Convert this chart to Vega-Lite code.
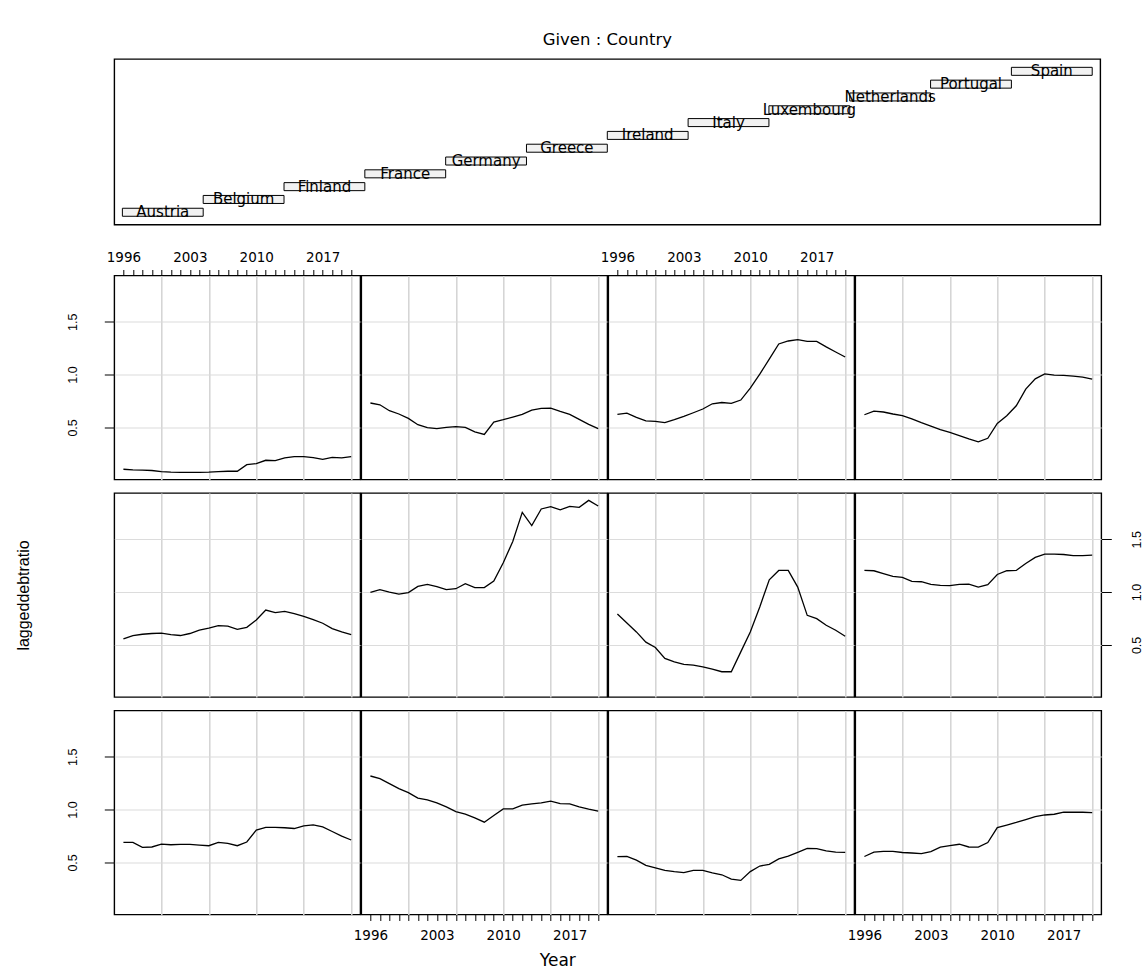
{
"$schema": "https://vega.github.io/schema/vega-lite/v6.json",
"background": "white",
"padding": {"left": 13.3, "top": 30, "right": 2, "bottom": 2},
"datasets": {
"countries": [{"Country":"Austria"},{"Country":"Belgium"},{"Country":"Finland"},{"Country":"France"},{"Country":"Germany"},{"Country":"Greece"},{"Country":"Ireland"},{"Country":"Italy"},{"Country":"Luxembourg"},{"Country":"Netherlands"},{"Country":"Portugal"},{"Country":"Spain"}],
"debt": [
{"Country":"Luxembourg","Year":1996,"laggeddebtratio":0.104},{"Country":"Luxembourg","Year":1997,"laggeddebtratio":0.098},{"Country":"Luxembourg","Year":1998,"laggeddebtratio":0.095},{"Country":"Luxembourg","Year":1999,"laggeddebtratio":0.092},{"Country":"Luxembourg","Year":2000,"laggeddebtratio":0.082},{"Country":"Luxembourg","Year":2001,"laggeddebtratio":0.076},{"Country":"Luxembourg","Year":2002,"laggeddebtratio":0.075},{"Country":"Luxembourg","Year":2003,"laggeddebtratio":0.075},{"Country":"Luxembourg","Year":2004,"laggeddebtratio":0.075},{"Country":"Luxembourg","Year":2005,"laggeddebtratio":0.077},{"Country":"Luxembourg","Year":2006,"laggeddebtratio":0.082},{"Country":"Luxembourg","Year":2007,"laggeddebtratio":0.085},{"Country":"Luxembourg","Year":2008,"laggeddebtratio":0.085},{"Country":"Luxembourg","Year":2009,"laggeddebtratio":0.148},{"Country":"Luxembourg","Year":2010,"laggeddebtratio":0.158},{"Country":"Luxembourg","Year":2011,"laggeddebtratio":0.189},{"Country":"Luxembourg","Year":2012,"laggeddebtratio":0.186},{"Country":"Luxembourg","Year":2013,"laggeddebtratio":0.211},{"Country":"Luxembourg","Year":2014,"laggeddebtratio":0.224},{"Country":"Luxembourg","Year":2015,"laggeddebtratio":0.224},{"Country":"Luxembourg","Year":2016,"laggeddebtratio":0.214},{"Country":"Luxembourg","Year":2017,"laggeddebtratio":0.198},{"Country":"Luxembourg","Year":2018,"laggeddebtratio":0.217},{"Country":"Luxembourg","Year":2019,"laggeddebtratio":0.211},{"Country":"Luxembourg","Year":2020,"laggeddebtratio":0.224},
{"Country":"Netherlands","Year":1996,"laggeddebtratio":0.731},{"Country":"Netherlands","Year":1997,"laggeddebtratio":0.714},{"Country":"Netherlands","Year":1998,"laggeddebtratio":0.658},{"Country":"Netherlands","Year":1999,"laggeddebtratio":0.627},{"Country":"Netherlands","Year":2000,"laggeddebtratio":0.585},{"Country":"Netherlands","Year":2001,"laggeddebtratio":0.526},{"Country":"Netherlands","Year":2002,"laggeddebtratio":0.497},{"Country":"Netherlands","Year":2003,"laggeddebtratio":0.488},{"Country":"Netherlands","Year":2004,"laggeddebtratio":0.5},{"Country":"Netherlands","Year":2005,"laggeddebtratio":0.507},{"Country":"Netherlands","Year":2006,"laggeddebtratio":0.5},{"Country":"Netherlands","Year":2007,"laggeddebtratio":0.457},{"Country":"Netherlands","Year":2008,"laggeddebtratio":0.434},{"Country":"Netherlands","Year":2009,"laggeddebtratio":0.551},{"Country":"Netherlands","Year":2010,"laggeddebtratio":0.573},{"Country":"Netherlands","Year":2011,"laggeddebtratio":0.598},{"Country":"Netherlands","Year":2012,"laggeddebtratio":0.623},{"Country":"Netherlands","Year":2013,"laggeddebtratio":0.664},{"Country":"Netherlands","Year":2014,"laggeddebtratio":0.68},{"Country":"Netherlands","Year":2015,"laggeddebtratio":0.683},{"Country":"Netherlands","Year":2016,"laggeddebtratio":0.651},{"Country":"Netherlands","Year":2017,"laggeddebtratio":0.623},{"Country":"Netherlands","Year":2018,"laggeddebtratio":0.576},{"Country":"Netherlands","Year":2019,"laggeddebtratio":0.529},{"Country":"Netherlands","Year":2020,"laggeddebtratio":0.488},
{"Country":"Portugal","Year":1996,"laggeddebtratio":0.623},{"Country":"Portugal","Year":1997,"laggeddebtratio":0.636},{"Country":"Portugal","Year":1998,"laggeddebtratio":0.595},{"Country":"Portugal","Year":1999,"laggeddebtratio":0.561},{"Country":"Portugal","Year":2000,"laggeddebtratio":0.557},{"Country":"Portugal","Year":2001,"laggeddebtratio":0.545},{"Country":"Portugal","Year":2002,"laggeddebtratio":0.573},{"Country":"Portugal","Year":2003,"laggeddebtratio":0.604},{"Country":"Portugal","Year":2004,"laggeddebtratio":0.639},{"Country":"Portugal","Year":2005,"laggeddebtratio":0.674},{"Country":"Portugal","Year":2006,"laggeddebtratio":0.724},{"Country":"Portugal","Year":2007,"laggeddebtratio":0.736},{"Country":"Portugal","Year":2008,"laggeddebtratio":0.727},{"Country":"Portugal","Year":2009,"laggeddebtratio":0.759},{"Country":"Portugal","Year":2010,"laggeddebtratio":0.872},{"Country":"Portugal","Year":2011,"laggeddebtratio":1.004},{"Country":"Portugal","Year":2012,"laggeddebtratio":1.146},{"Country":"Portugal","Year":2013,"laggeddebtratio":1.29},{"Country":"Portugal","Year":2014,"laggeddebtratio":1.318},{"Country":"Portugal","Year":2015,"laggeddebtratio":1.331},{"Country":"Portugal","Year":2016,"laggeddebtratio":1.315},{"Country":"Portugal","Year":2017,"laggeddebtratio":1.315},{"Country":"Portugal","Year":2018,"laggeddebtratio":1.262},{"Country":"Portugal","Year":2019,"laggeddebtratio":1.214},{"Country":"Portugal","Year":2020,"laggeddebtratio":1.167},
{"Country":"Spain","Year":1996,"laggeddebtratio":0.62},{"Country":"Spain","Year":1997,"laggeddebtratio":0.655},{"Country":"Spain","Year":1998,"laggeddebtratio":0.646},{"Country":"Spain","Year":1999,"laggeddebtratio":0.627},{"Country":"Spain","Year":2000,"laggeddebtratio":0.611},{"Country":"Spain","Year":2001,"laggeddebtratio":0.58},{"Country":"Spain","Year":2002,"laggeddebtratio":0.545},{"Country":"Spain","Year":2003,"laggeddebtratio":0.513},{"Country":"Spain","Year":2004,"laggeddebtratio":0.479},{"Country":"Spain","Year":2005,"laggeddebtratio":0.453},{"Country":"Spain","Year":2006,"laggeddebtratio":0.422},{"Country":"Spain","Year":2007,"laggeddebtratio":0.391},{"Country":"Spain","Year":2008,"laggeddebtratio":0.363},{"Country":"Spain","Year":2009,"laggeddebtratio":0.397},{"Country":"Spain","Year":2010,"laggeddebtratio":0.538},{"Country":"Spain","Year":2011,"laggeddebtratio":0.611},{"Country":"Spain","Year":2012,"laggeddebtratio":0.705},{"Country":"Spain","Year":2013,"laggeddebtratio":0.863},{"Country":"Spain","Year":2014,"laggeddebtratio":0.96},{"Country":"Spain","Year":2015,"laggeddebtratio":1.007},{"Country":"Spain","Year":2016,"laggeddebtratio":0.995},{"Country":"Spain","Year":2017,"laggeddebtratio":0.992},{"Country":"Spain","Year":2018,"laggeddebtratio":0.985},{"Country":"Spain","Year":2019,"laggeddebtratio":0.976},{"Country":"Spain","Year":2020,"laggeddebtratio":0.957},
{"Country":"Germany","Year":1996,"laggeddebtratio":0.557},{"Country":"Germany","Year":1997,"laggeddebtratio":0.589},{"Country":"Germany","Year":1998,"laggeddebtratio":0.601},{"Country":"Germany","Year":1999,"laggeddebtratio":0.608},{"Country":"Germany","Year":2000,"laggeddebtratio":0.611},{"Country":"Germany","Year":2001,"laggeddebtratio":0.598},{"Country":"Germany","Year":2002,"laggeddebtratio":0.589},{"Country":"Germany","Year":2003,"laggeddebtratio":0.608},{"Country":"Germany","Year":2004,"laggeddebtratio":0.639},{"Country":"Germany","Year":2005,"laggeddebtratio":0.658},{"Country":"Germany","Year":2006,"laggeddebtratio":0.683},{"Country":"Germany","Year":2007,"laggeddebtratio":0.677},{"Country":"Germany","Year":2008,"laggeddebtratio":0.648},{"Country":"Germany","Year":2009,"laggeddebtratio":0.667},{"Country":"Germany","Year":2010,"laggeddebtratio":0.736},{"Country":"Germany","Year":2011,"laggeddebtratio":0.83},{"Country":"Germany","Year":2012,"laggeddebtratio":0.806},{"Country":"Germany","Year":2013,"laggeddebtratio":0.818},{"Country":"Germany","Year":2014,"laggeddebtratio":0.796},{"Country":"Germany","Year":2015,"laggeddebtratio":0.771},{"Country":"Germany","Year":2016,"laggeddebtratio":0.74},{"Country":"Germany","Year":2017,"laggeddebtratio":0.705},{"Country":"Germany","Year":2018,"laggeddebtratio":0.655},{"Country":"Germany","Year":2019,"laggeddebtratio":0.623},{"Country":"Germany","Year":2020,"laggeddebtratio":0.598},
{"Country":"Greece","Year":1996,"laggeddebtratio":0.997},{"Country":"Greece","Year":1997,"laggeddebtratio":1.023},{"Country":"Greece","Year":1998,"laggeddebtratio":1.0},{"Country":"Greece","Year":1999,"laggeddebtratio":0.981},{"Country":"Greece","Year":2000,"laggeddebtratio":0.995},{"Country":"Greece","Year":2001,"laggeddebtratio":1.054},{"Country":"Greece","Year":2002,"laggeddebtratio":1.073},{"Country":"Greece","Year":2003,"laggeddebtratio":1.051},{"Country":"Greece","Year":2004,"laggeddebtratio":1.023},{"Country":"Greece","Year":2005,"laggeddebtratio":1.032},{"Country":"Greece","Year":2006,"laggeddebtratio":1.08},{"Country":"Greece","Year":2007,"laggeddebtratio":1.042},{"Country":"Greece","Year":2008,"laggeddebtratio":1.042},{"Country":"Greece","Year":2009,"laggeddebtratio":1.104},{"Country":"Greece","Year":2010,"laggeddebtratio":1.278},{"Country":"Greece","Year":2011,"laggeddebtratio":1.479},{"Country":"Greece","Year":2012,"laggeddebtratio":1.755},{"Country":"Greece","Year":2013,"laggeddebtratio":1.63},{"Country":"Greece","Year":2014,"laggeddebtratio":1.787},{"Country":"Greece","Year":2015,"laggeddebtratio":1.809},{"Country":"Greece","Year":2016,"laggeddebtratio":1.778},{"Country":"Greece","Year":2017,"laggeddebtratio":1.812},{"Country":"Greece","Year":2018,"laggeddebtratio":1.802},{"Country":"Greece","Year":2019,"laggeddebtratio":1.868},{"Country":"Greece","Year":2020,"laggeddebtratio":1.815},
{"Country":"Ireland","Year":1996,"laggeddebtratio":0.793},{"Country":"Ireland","Year":1997,"laggeddebtratio":0.708},{"Country":"Ireland","Year":1998,"laggeddebtratio":0.623},{"Country":"Ireland","Year":1999,"laggeddebtratio":0.526},{"Country":"Ireland","Year":2000,"laggeddebtratio":0.476},{"Country":"Ireland","Year":2001,"laggeddebtratio":0.372},{"Country":"Ireland","Year":2002,"laggeddebtratio":0.34},{"Country":"Ireland","Year":2003,"laggeddebtratio":0.315},{"Country":"Ireland","Year":2004,"laggeddebtratio":0.309},{"Country":"Ireland","Year":2005,"laggeddebtratio":0.293},{"Country":"Ireland","Year":2006,"laggeddebtratio":0.271},{"Country":"Ireland","Year":2007,"laggeddebtratio":0.246},{"Country":"Ireland","Year":2008,"laggeddebtratio":0.246},{"Country":"Ireland","Year":2009,"laggeddebtratio":0.434},{"Country":"Ireland","Year":2010,"laggeddebtratio":0.623},{"Country":"Ireland","Year":2011,"laggeddebtratio":0.859},{"Country":"Ireland","Year":2012,"laggeddebtratio":1.117},{"Country":"Ireland","Year":2013,"laggeddebtratio":1.205},{"Country":"Ireland","Year":2014,"laggeddebtratio":1.205},{"Country":"Ireland","Year":2015,"laggeddebtratio":1.047},{"Country":"Ireland","Year":2016,"laggeddebtratio":0.78},{"Country":"Ireland","Year":2017,"laggeddebtratio":0.749},{"Country":"Ireland","Year":2018,"laggeddebtratio":0.686},{"Country":"Ireland","Year":2019,"laggeddebtratio":0.639},{"Country":"Ireland","Year":2020,"laggeddebtratio":0.582},
{"Country":"Italy","Year":1996,"laggeddebtratio":1.205},{"Country":"Italy","Year":1997,"laggeddebtratio":1.202},{"Country":"Italy","Year":1998,"laggeddebtratio":1.174},{"Country":"Italy","Year":1999,"laggeddebtratio":1.148},{"Country":"Italy","Year":2000,"laggeddebtratio":1.139},{"Country":"Italy","Year":2001,"laggeddebtratio":1.101},{"Country":"Italy","Year":2002,"laggeddebtratio":1.098},{"Country":"Italy","Year":2003,"laggeddebtratio":1.073},{"Country":"Italy","Year":2004,"laggeddebtratio":1.063},{"Country":"Italy","Year":2005,"laggeddebtratio":1.061},{"Country":"Italy","Year":2006,"laggeddebtratio":1.073},{"Country":"Italy","Year":2007,"laggeddebtratio":1.076},{"Country":"Italy","Year":2008,"laggeddebtratio":1.047},{"Country":"Italy","Year":2009,"laggeddebtratio":1.07},{"Country":"Italy","Year":2010,"laggeddebtratio":1.167},{"Country":"Italy","Year":2011,"laggeddebtratio":1.202},{"Country":"Italy","Year":2012,"laggeddebtratio":1.205},{"Country":"Italy","Year":2013,"laggeddebtratio":1.271},{"Country":"Italy","Year":2014,"laggeddebtratio":1.328},{"Country":"Italy","Year":2015,"laggeddebtratio":1.359},{"Country":"Italy","Year":2016,"laggeddebtratio":1.359},{"Country":"Italy","Year":2017,"laggeddebtratio":1.356},{"Country":"Italy","Year":2018,"laggeddebtratio":1.346},{"Country":"Italy","Year":2019,"laggeddebtratio":1.346},{"Country":"Italy","Year":2020,"laggeddebtratio":1.349},
{"Country":"Austria","Year":1996,"laggeddebtratio":0.689},{"Country":"Austria","Year":1997,"laggeddebtratio":0.689},{"Country":"Austria","Year":1998,"laggeddebtratio":0.642},{"Country":"Austria","Year":1999,"laggeddebtratio":0.646},{"Country":"Austria","Year":2000,"laggeddebtratio":0.674},{"Country":"Austria","Year":2001,"laggeddebtratio":0.667},{"Country":"Austria","Year":2002,"laggeddebtratio":0.67},{"Country":"Austria","Year":2003,"laggeddebtratio":0.67},{"Country":"Austria","Year":2004,"laggeddebtratio":0.664},{"Country":"Austria","Year":2005,"laggeddebtratio":0.658},{"Country":"Austria","Year":2006,"laggeddebtratio":0.689},{"Country":"Austria","Year":2007,"laggeddebtratio":0.68},{"Country":"Austria","Year":2008,"laggeddebtratio":0.658},{"Country":"Austria","Year":2009,"laggeddebtratio":0.693},{"Country":"Austria","Year":2010,"laggeddebtratio":0.806},{"Country":"Austria","Year":2011,"laggeddebtratio":0.831},{"Country":"Austria","Year":2012,"laggeddebtratio":0.831},{"Country":"Austria","Year":2013,"laggeddebtratio":0.828},{"Country":"Austria","Year":2014,"laggeddebtratio":0.821},{"Country":"Austria","Year":2015,"laggeddebtratio":0.846},{"Country":"Austria","Year":2016,"laggeddebtratio":0.856},{"Country":"Austria","Year":2017,"laggeddebtratio":0.837},{"Country":"Austria","Year":2018,"laggeddebtratio":0.793},{"Country":"Austria","Year":2019,"laggeddebtratio":0.749},{"Country":"Austria","Year":2020,"laggeddebtratio":0.712},
{"Country":"Belgium","Year":1996,"laggeddebtratio":1.318},{"Country":"Belgium","Year":1997,"laggeddebtratio":1.293},{"Country":"Belgium","Year":1998,"laggeddebtratio":1.246},{"Country":"Belgium","Year":1999,"laggeddebtratio":1.198},{"Country":"Belgium","Year":2000,"laggeddebtratio":1.161},{"Country":"Belgium","Year":2001,"laggeddebtratio":1.108},{"Country":"Belgium","Year":2002,"laggeddebtratio":1.092},{"Country":"Belgium","Year":2003,"laggeddebtratio":1.063},{"Country":"Belgium","Year":2004,"laggeddebtratio":1.026},{"Country":"Belgium","Year":2005,"laggeddebtratio":0.981},{"Country":"Belgium","Year":2006,"laggeddebtratio":0.957},{"Country":"Belgium","Year":2007,"laggeddebtratio":0.922},{"Country":"Belgium","Year":2008,"laggeddebtratio":0.881},{"Country":"Belgium","Year":2009,"laggeddebtratio":0.944},{"Country":"Belgium","Year":2010,"laggeddebtratio":1.007},{"Country":"Belgium","Year":2011,"laggeddebtratio":1.007},{"Country":"Belgium","Year":2012,"laggeddebtratio":1.042},{"Country":"Belgium","Year":2013,"laggeddebtratio":1.054},{"Country":"Belgium","Year":2014,"laggeddebtratio":1.063},{"Country":"Belgium","Year":2015,"laggeddebtratio":1.08},{"Country":"Belgium","Year":2016,"laggeddebtratio":1.057},{"Country":"Belgium","Year":2017,"laggeddebtratio":1.054},{"Country":"Belgium","Year":2018,"laggeddebtratio":1.026},{"Country":"Belgium","Year":2019,"laggeddebtratio":1.004},{"Country":"Belgium","Year":2020,"laggeddebtratio":0.985},
{"Country":"Finland","Year":1996,"laggeddebtratio":0.555},{"Country":"Finland","Year":1997,"laggeddebtratio":0.557},{"Country":"Finland","Year":1998,"laggeddebtratio":0.522},{"Country":"Finland","Year":1999,"laggeddebtratio":0.472},{"Country":"Finland","Year":2000,"laggeddebtratio":0.448},{"Country":"Finland","Year":2001,"laggeddebtratio":0.425},{"Country":"Finland","Year":2002,"laggeddebtratio":0.412},{"Country":"Finland","Year":2003,"laggeddebtratio":0.403},{"Country":"Finland","Year":2004,"laggeddebtratio":0.425},{"Country":"Finland","Year":2005,"laggeddebtratio":0.425},{"Country":"Finland","Year":2006,"laggeddebtratio":0.4},{"Country":"Finland","Year":2007,"laggeddebtratio":0.383},{"Country":"Finland","Year":2008,"laggeddebtratio":0.342},{"Country":"Finland","Year":2009,"laggeddebtratio":0.33},{"Country":"Finland","Year":2010,"laggeddebtratio":0.413},{"Country":"Finland","Year":2011,"laggeddebtratio":0.466},{"Country":"Finland","Year":2012,"laggeddebtratio":0.482},{"Country":"Finland","Year":2013,"laggeddebtratio":0.533},{"Country":"Finland","Year":2014,"laggeddebtratio":0.56},{"Country":"Finland","Year":2015,"laggeddebtratio":0.595},{"Country":"Finland","Year":2016,"laggeddebtratio":0.632},{"Country":"Finland","Year":2017,"laggeddebtratio":0.63},{"Country":"Finland","Year":2018,"laggeddebtratio":0.61},{"Country":"Finland","Year":2019,"laggeddebtratio":0.597},{"Country":"Finland","Year":2020,"laggeddebtratio":0.595},
{"Country":"France","Year":1996,"laggeddebtratio":0.556},{"Country":"France","Year":1997,"laggeddebtratio":0.597},{"Country":"France","Year":1998,"laggeddebtratio":0.604},{"Country":"France","Year":1999,"laggeddebtratio":0.604},{"Country":"France","Year":2000,"laggeddebtratio":0.594},{"Country":"France","Year":2001,"laggeddebtratio":0.589},{"Country":"France","Year":2002,"laggeddebtratio":0.583},{"Country":"France","Year":2003,"laggeddebtratio":0.603},{"Country":"France","Year":2004,"laggeddebtratio":0.644},{"Country":"France","Year":2005,"laggeddebtratio":0.659},{"Country":"France","Year":2006,"laggeddebtratio":0.672},{"Country":"France","Year":2007,"laggeddebtratio":0.646},{"Country":"France","Year":2008,"laggeddebtratio":0.645},{"Country":"France","Year":2009,"laggeddebtratio":0.688},{"Country":"France","Year":2010,"laggeddebtratio":0.83},{"Country":"France","Year":2011,"laggeddebtratio":0.853},{"Country":"France","Year":2012,"laggeddebtratio":0.878},{"Country":"France","Year":2013,"laggeddebtratio":0.906},{"Country":"France","Year":2014,"laggeddebtratio":0.934},{"Country":"France","Year":2015,"laggeddebtratio":0.949},{"Country":"France","Year":2016,"laggeddebtratio":0.956},{"Country":"France","Year":2017,"laggeddebtratio":0.975},{"Country":"France","Year":2018,"laggeddebtratio":0.976},{"Country":"France","Year":2019,"laggeddebtratio":0.975},{"Country":"France","Year":2020,"laggeddebtratio":0.972}
]
},
"config": {
"view": {"stroke": "black", "strokeWidth": 1.4},
"axis": {"domain": false, "grid": true, "tickColor": "black", "tickWidth": 1, "labelColor": "black", "labelFlush": false, "labelOverlap": false, "labelBound": false, "minExtent": 0, "maxExtent": 200},
"axisX": {"labelFont": "DejaVu Sans", "labelFontSize": 13.5, "gridColor": "#d3d3d3", "gridWidth": 1.5},
"axisY": {"labelFont": "Liberation Sans", "labelFontSize": 12.5, "gridColor": "#dcdcdc", "gridWidth": 1.2}
},
"spacing": 11.5,
"vconcat": [
{
"data": {"name": "countries"},
"width": 986, "height": 165.6,
"title": {"text": "Given : Country", "font": "DejaVu Sans", "fontSize": 16.5, "fontWeight": "normal", "color": "black", "anchor": "middle", "offset": -5, "baseline": "bottom"},
"encoding": {
"x": {"field": "Country", "type": "nominal", "scale": {"type": "band", "paddingInner": 0, "paddingOuter": 0.1}, "axis": null},
"y": {"field": "Country", "type": "nominal", "sort": "descending", "scale": {"type": "band", "paddingInner": 0.375, "paddingOuter": 0.65}, "axis": {"title": null, "labels": false, "ticks": false, "grid": false, "domain": false, "minExtent": 100, "maxExtent": 100}}
},
"layer": [
{"mark": {"type": "rect", "fill": "#f2f2f2", "stroke": "black", "strokeWidth": 1}},
{"mark": {"type": "text", "font": "DejaVu Sans", "fontSize": 15, "color": "black", "baseline": "middle"}, "encoding": {"text": {"field": "Country"}}}
]
},
{
"spacing": 1, "bounds": "flush",
"hconcat": [
{"data": {"name": "debt"}, "width": 246, "height": 204, "transform": [{"filter": "datum.Country === 'Luxembourg'"}], "mark": {"type": "line", "color": "black", "strokeWidth": 1.3},
"encoding": {
"x": {"field": "Year", "type": "quantitative", "scale": {"domain": [1995.04, 2020.96], "nice": false, "zero": false}, "axis": {"orient": "top", "title": null, "values": [1996,1997,1998,1999,2000,2001,2002,2003,2004,2005,2006,2007,2008,2009,2010,2011,2012,2013,2014,2015,2016,2017,2018,2019,2020], "format": "d", "labelExpr": "(datum.value - 1996) % 7 === 0 ? datum.label : ''", "tickSize": 6, "labelPadding": 5, "minExtent": 37, "gridOpacity": {"condition": {"test": "datum.value % 5 === 0", "value": 1}, "value": 0}}},
"y": {"field": "laggeddebtratio", "type": "quantitative", "scale": {"domain": [0.007, 1.938], "nice": false, "zero": false}, "axis": {"orient": "left", "title": null, "values": [0.5, 1, 1.5], "format": ".1f", "labelAngle": -90, "labelAlign": "center", "labelBaseline": "bottom", "tickSize": 10, "labelPadding": 25, "minExtent": 100}}
}},
{"data": {"name": "debt"}, "width": 246, "height": 204, "transform": [{"filter": "datum.Country === 'Netherlands'"}], "mark": {"type": "line", "color": "black", "strokeWidth": 1.3},
"encoding": {
"x": {"field": "Year", "type": "quantitative", "scale": {"domain": [1995.04, 2020.96], "nice": false, "zero": false}, "axis": {"title": null, "values": [2000, 2005, 2010, 2015, 2020], "labels": false, "ticks": false}},
"y": {"field": "laggeddebtratio", "type": "quantitative", "scale": {"domain": [0.007, 1.938], "nice": false, "zero": false}, "axis": {"title": null, "values": [0.5, 1, 1.5], "labels": false, "ticks": false}}
}},
{"data": {"name": "debt"}, "width": 246, "height": 204, "transform": [{"filter": "datum.Country === 'Portugal'"}], "mark": {"type": "line", "color": "black", "strokeWidth": 1.3},
"encoding": {
"x": {"field": "Year", "type": "quantitative", "scale": {"domain": [1995.04, 2020.96], "nice": false, "zero": false}, "axis": {"orient": "top", "title": null, "values": [1996,1997,1998,1999,2000,2001,2002,2003,2004,2005,2006,2007,2008,2009,2010,2011,2012,2013,2014,2015,2016,2017,2018,2019,2020], "format": "d", "labelExpr": "(datum.value - 1996) % 7 === 0 ? datum.label : ''", "tickSize": 6, "labelPadding": 5, "minExtent": 37, "gridOpacity": {"condition": {"test": "datum.value % 5 === 0", "value": 1}, "value": 0}}},
"y": {"field": "laggeddebtratio", "type": "quantitative", "scale": {"domain": [0.007, 1.938], "nice": false, "zero": false}, "axis": {"title": null, "values": [0.5, 1, 1.5], "labels": false, "ticks": false}}
}},
{"data": {"name": "debt"}, "width": 246, "height": 204, "transform": [{"filter": "datum.Country === 'Spain'"}], "mark": {"type": "line", "color": "black", "strokeWidth": 1.3},
"encoding": {
"x": {"field": "Year", "type": "quantitative", "scale": {"domain": [1995.04, 2020.96], "nice": false, "zero": false}, "axis": {"title": null, "values": [2000, 2005, 2010, 2015, 2020], "labels": false, "ticks": false}},
"y": {"field": "laggeddebtratio", "type": "quantitative", "scale": {"domain": [0.007, 1.938], "nice": false, "zero": false}, "axis": {"title": null, "values": [0.5, 1, 1.5], "labels": false, "ticks": false}}
}}
]
},
{
"spacing": 1, "bounds": "flush",
"hconcat": [
{"data": {"name": "debt"}, "width": 246, "height": 204, "transform": [{"filter": "datum.Country === 'Germany'"}], "mark": {"type": "line", "color": "black", "strokeWidth": 1.3},
"encoding": {
"x": {"field": "Year", "type": "quantitative", "scale": {"domain": [1995.04, 2020.96], "nice": false, "zero": false}, "axis": {"title": null, "values": [2000, 2005, 2010, 2015, 2020], "labels": false, "ticks": false}},
"y": {"field": "laggeddebtratio", "type": "quantitative", "scale": {"domain": [0.007, 1.938], "nice": false, "zero": false}, "axis": {"orient": "left", "title": "laggeddebtratio", "values": [0.5, 1, 1.5], "labels": false, "ticks": false, "minExtent": 100, "maxExtent": 100, "titlePadding": -17.5, "titleFont": "Liberation Sans", "titleFontSize": 16, "titleFontWeight": "normal", "titleColor": "black"}}
}},
{"data": {"name": "debt"}, "width": 246, "height": 204, "transform": [{"filter": "datum.Country === 'Greece'"}], "mark": {"type": "line", "color": "black", "strokeWidth": 1.3},
"encoding": {
"x": {"field": "Year", "type": "quantitative", "scale": {"domain": [1995.04, 2020.96], "nice": false, "zero": false}, "axis": {"title": null, "values": [2000, 2005, 2010, 2015, 2020], "labels": false, "ticks": false}},
"y": {"field": "laggeddebtratio", "type": "quantitative", "scale": {"domain": [0.007, 1.938], "nice": false, "zero": false}, "axis": {"title": null, "values": [0.5, 1, 1.5], "labels": false, "ticks": false}}
}},
{"data": {"name": "debt"}, "width": 246, "height": 204, "transform": [{"filter": "datum.Country === 'Ireland'"}], "mark": {"type": "line", "color": "black", "strokeWidth": 1.3},
"encoding": {
"x": {"field": "Year", "type": "quantitative", "scale": {"domain": [1995.04, 2020.96], "nice": false, "zero": false}, "axis": {"title": null, "values": [2000, 2005, 2010, 2015, 2020], "labels": false, "ticks": false}},
"y": {"field": "laggeddebtratio", "type": "quantitative", "scale": {"domain": [0.007, 1.938], "nice": false, "zero": false}, "axis": {"title": null, "values": [0.5, 1, 1.5], "labels": false, "ticks": false}}
}},
{"data": {"name": "debt"}, "width": 246, "height": 204, "transform": [{"filter": "datum.Country === 'Italy'"}], "mark": {"type": "line", "color": "black", "strokeWidth": 1.3},
"encoding": {
"x": {"field": "Year", "type": "quantitative", "scale": {"domain": [1995.04, 2020.96], "nice": false, "zero": false}, "axis": {"title": null, "values": [2000, 2005, 2010, 2015, 2020], "labels": false, "ticks": false}},
"y": {"field": "laggeddebtratio", "type": "quantitative", "scale": {"domain": [0.007, 1.938], "nice": false, "zero": false}, "axis": {"orient": "right", "title": null, "values": [0.5, 1, 1.5], "format": ".1f", "labelAngle": -90, "labelAlign": "center", "labelBaseline": "top", "tickSize": 10, "labelPadding": 19}}
}}
]
},
{
"spacing": 1, "bounds": "flush",
"title": {"text": "Year", "orient": "bottom", "anchor": "middle", "font": "DejaVu Sans", "fontSize": 17, "fontWeight": "normal", "color": "black", "offset": 10},
"hconcat": [
{"data": {"name": "debt"}, "width": 246, "height": 204, "transform": [{"filter": "datum.Country === 'Austria'"}], "mark": {"type": "line", "color": "black", "strokeWidth": 1.3},
"encoding": {
"x": {"field": "Year", "type": "quantitative", "scale": {"domain": [1995.04, 2020.96], "nice": false, "zero": false}, "axis": {"title": null, "values": [2000, 2005, 2010, 2015, 2020], "labels": false, "ticks": false}},
"y": {"field": "laggeddebtratio", "type": "quantitative", "scale": {"domain": [0.007, 1.938], "nice": false, "zero": false}, "axis": {"orient": "left", "title": null, "values": [0.5, 1, 1.5], "format": ".1f", "labelAngle": -90, "labelAlign": "center", "labelBaseline": "bottom", "tickSize": 10, "labelPadding": 25, "minExtent": 100}}
}},
{"data": {"name": "debt"}, "width": 246, "height": 204, "transform": [{"filter": "datum.Country === 'Belgium'"}], "mark": {"type": "line", "color": "black", "strokeWidth": 1.3},
"encoding": {
"x": {"field": "Year", "type": "quantitative", "scale": {"domain": [1995.04, 2020.96], "nice": false, "zero": false}, "axis": {"orient": "bottom", "title": null, "values": [1996,1997,1998,1999,2000,2001,2002,2003,2004,2005,2006,2007,2008,2009,2010,2011,2012,2013,2014,2015,2016,2017,2018,2019,2020], "format": "d", "labelExpr": "(datum.value - 1996) % 7 === 0 ? datum.label : ''", "tickSize": 6, "labelPadding": 8, "gridOpacity": {"condition": {"test": "datum.value % 5 === 0", "value": 1}, "value": 0}}},
"y": {"field": "laggeddebtratio", "type": "quantitative", "scale": {"domain": [0.007, 1.938], "nice": false, "zero": false}, "axis": {"title": null, "values": [0.5, 1, 1.5], "labels": false, "ticks": false}}
}},
{"data": {"name": "debt"}, "width": 246, "height": 204, "transform": [{"filter": "datum.Country === 'Finland'"}], "mark": {"type": "line", "color": "black", "strokeWidth": 1.3},
"encoding": {
"x": {"field": "Year", "type": "quantitative", "scale": {"domain": [1995.04, 2020.96], "nice": false, "zero": false}, "axis": {"title": null, "values": [2000, 2005, 2010, 2015, 2020], "labels": false, "ticks": false}},
"y": {"field": "laggeddebtratio", "type": "quantitative", "scale": {"domain": [0.007, 1.938], "nice": false, "zero": false}, "axis": {"title": null, "values": [0.5, 1, 1.5], "labels": false, "ticks": false}}
}},
{"data": {"name": "debt"}, "width": 246, "height": 204, "transform": [{"filter": "datum.Country === 'France'"}], "mark": {"type": "line", "color": "black", "strokeWidth": 1.3},
"encoding": {
"x": {"field": "Year", "type": "quantitative", "scale": {"domain": [1995.04, 2020.96], "nice": false, "zero": false}, "axis": {"orient": "bottom", "title": null, "values": [1996,1997,1998,1999,2000,2001,2002,2003,2004,2005,2006,2007,2008,2009,2010,2011,2012,2013,2014,2015,2016,2017,2018,2019,2020], "format": "d", "labelExpr": "(datum.value - 1996) % 7 === 0 ? datum.label : ''", "tickSize": 6, "labelPadding": 8, "gridOpacity": {"condition": {"test": "datum.value % 5 === 0", "value": 1}, "value": 0}}},
"y": {"field": "laggeddebtratio", "type": "quantitative", "scale": {"domain": [0.007, 1.938], "nice": false, "zero": false}, "axis": {"title": null, "values": [0.5, 1, 1.5], "labels": false, "ticks": false}}
}}
]
}
]
}
